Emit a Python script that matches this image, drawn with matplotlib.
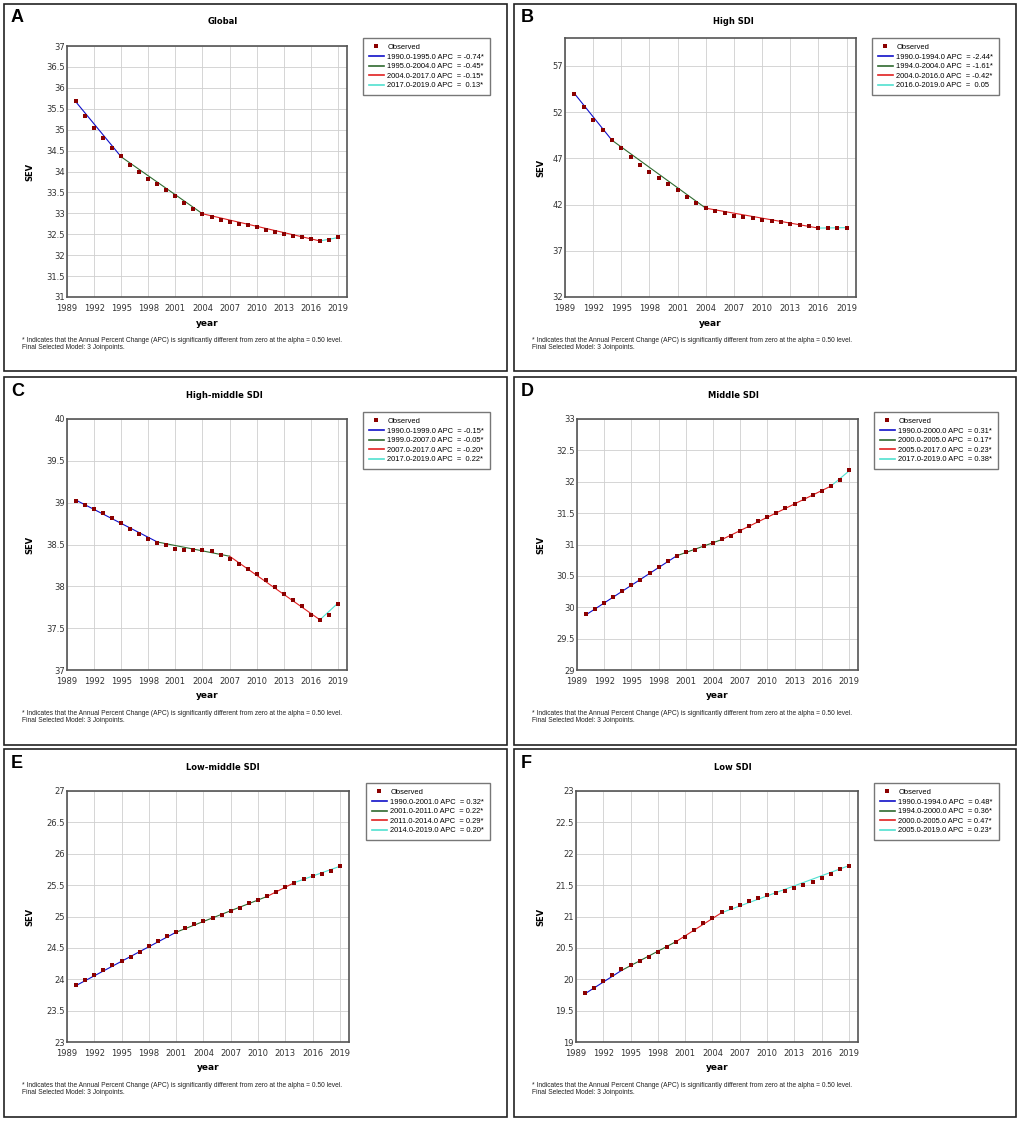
import numpy as np
import matplotlib
matplotlib.use("Agg")
import matplotlib.pyplot as plt
from matplotlib.lines import Line2D
from matplotlib.patches import Rectangle
from matplotlib.ticker import FormatStrFormatter

W, H = 1021, 1122

# ---- data ----
years = list(range(1990, 2020))

global_sev = [35.68, 35.33, 35.04, 34.80, 34.57, 34.37, 34.16, 33.98, 33.83, 33.69,
              33.55, 33.41, 33.25, 33.10, 32.98, 32.91, 32.84, 32.79, 32.75, 32.71,
              32.67, 32.61, 32.56, 32.51, 32.47, 32.44, 32.39, 32.35, 32.37, 32.43]
high_sev = [54.00, 52.50, 51.17, 50.02, 48.97, 48.07, 47.14, 46.31, 45.56, 44.87,
            44.26, 43.61, 42.85, 42.18, 41.60, 41.28, 41.03, 40.81, 40.63, 40.49,
            40.34, 40.23, 40.09, 39.91, 39.77, 39.63, 39.48, 39.41, 39.41, 39.48]
highmid_sev = [39.02, 38.97, 38.92, 38.88, 38.82, 38.76, 38.68, 38.62, 38.57, 38.52,
               38.50, 38.45, 38.43, 38.43, 38.43, 38.42, 38.38, 38.33, 38.27, 38.21,
               38.15, 38.07, 37.99, 37.91, 37.84, 37.77, 37.66, 37.60, 37.66, 37.79]
mid_sev = [29.89, 29.98, 30.07, 30.17, 30.26, 30.35, 30.43, 30.54, 30.64, 30.74,
           30.82, 30.88, 30.92, 30.97, 31.02, 31.08, 31.14, 31.22, 31.30, 31.37,
           31.44, 31.50, 31.58, 31.65, 31.73, 31.79, 31.86, 31.93, 32.03, 32.19]
lowmid_sev = [23.91, 23.99, 24.07, 24.15, 24.23, 24.29, 24.36, 24.44, 24.53, 24.61,
              24.69, 24.75, 24.81, 24.88, 24.93, 24.98, 25.03, 25.08, 25.14, 25.21,
              25.27, 25.32, 25.39, 25.47, 25.54, 25.59, 25.64, 25.68, 25.73, 25.80]
low_sev = [19.78, 19.86, 19.97, 20.07, 20.16, 20.23, 20.29, 20.36, 20.44, 20.52,
           20.60, 20.68, 20.78, 20.89, 20.98, 21.07, 21.13, 21.19, 21.24, 21.30,
           21.34, 21.37, 21.41, 21.46, 21.50, 21.55, 21.61, 21.68, 21.75, 21.81]

# joinpoint model: knot years and fitted values at the knots
global_knots = [1990, 1995, 2004, 2017, 2019]
global_fit = [35.66, 34.35, 32.99, 32.34, 32.42]
high_knots = [1990, 1994, 2004, 2016, 2019]
high_fit = [54.0, 48.95, 41.6, 39.45, 39.5]
highmid_knots = [1990, 1999, 2007, 2017, 2019]
highmid_fit = [39.03, 38.53, 38.36, 37.60, 37.80]
mid_knots = [1990, 2000, 2005, 2017, 2019]
mid_fit = [29.88, 30.82, 31.08, 31.93, 32.17]
lowmid_knots = [1990, 2001, 2011, 2014, 2019]
lowmid_fit = [23.90, 24.75, 25.32, 25.54, 25.80]
low_knots = [1990, 1994, 2000, 2005, 2019]
low_fit = [19.77, 20.14, 20.60, 21.06, 21.81]

global_apc = ["-0.74*", "-0.45*", "-0.15*", " 0.13*"]
high_apc = ["-2.44*", "-1.61*", "-0.42*", " 0.05"]
highmid_apc = ["-0.15*", "-0.05*", "-0.20*", " 0.22*"]
mid_apc = ["0.31*", "0.17*", "0.23*", "0.38*"]
lowmid_apc = ["0.32*", "0.22*", "0.29*", "0.20*"]
low_apc = ["0.48*", "0.36*", "0.47*", "0.23*"]

seg_colors = ["#1010c8", "#2f6a2f", "#e02020", "#50e0d0"]
obs_color = "#8b0000"

footnote = ("* Indicates that the Annual Percent Change (APC) is significantly "
            "different from zero at the alpha = 0.50 level.\n"
            "Final Selected Model: 3 Joinpoints.")

# panel frame (x0, y0, x1, y1), axes (x0, y0, x1, y1) in pixels from top-left
panels = [
    ("A", "Global", global_sev, global_knots, global_fit, global_apc,
     (31, 37), np.arange(31, 37.01, 0.5),
     (4, 4, 507, 371), (67, 46, 347, 297), 223, 30, (363, 38)),
    ("B", "High SDI", high_sev, high_knots, high_fit, high_apc,
     (32, 60), np.arange(32, 58, 5),
     (514, 4, 1016, 371), (565, 38, 856, 297), 733, 541, (872, 38)),
    ("C", "High-middle SDI", highmid_sev, highmid_knots, highmid_fit, highmid_apc,
     (37, 40), np.arange(37, 40.01, 0.5),
     (4, 377, 507, 745), (67, 419, 347, 670), 224, 30, (363, 412)),
    ("D", "Middle SDI", mid_sev, mid_knots, mid_fit, mid_apc,
     (29, 33), np.arange(29, 33.01, 0.5),
     (514, 377, 1016, 745), (577, 419, 858, 670), 733, 541, (874, 412)),
    ("E", "Low-middle SDI", lowmid_sev, lowmid_knots, lowmid_fit, lowmid_apc,
     (23, 27), np.arange(23, 27.01, 0.5),
     (4, 749, 507, 1117), (67, 791, 349, 1042), 223, 30, (366, 783)),
    ("F", "Low SDI", low_sev, low_knots, low_fit, low_apc,
     (19, 23), np.arange(19, 23.01, 0.5),
     (514, 749, 1016, 1117), (576, 791, 858, 1042), 733, 541, (874, 783)),
]

fig = plt.figure(figsize=(W / 100, H / 100), dpi=100)
fig.patch.set_facecolor("white")


def fx(x):
    return x / W


def fy(y):
    return 1 - y / H


for (letter, title, obs, knots, fit, apc, ylim, yticks,
     frame, box, title_x, ylab_x, leg_pos) in panels:
    # panel border
    fig.patches.append(Rectangle((fx(frame[0]), fy(frame[3])),
                                 fx(frame[2] - frame[0]), (frame[3] - frame[1]) / H,
                                 transform=fig.transFigure, fill=False,
                                 edgecolor="#222222", linewidth=1.2))

    ax = fig.add_axes([fx(box[0]), fy(box[3]), fx(box[2] - box[0]), (box[3] - box[1]) / H])
    for i in range(len(knots) - 1):
        ax.plot(knots[i:i + 2], fit[i:i + 2], color=seg_colors[i], lw=0.8, zorder=2)
    ax.plot(years, obs, linestyle="none", marker="s", markersize=3.3,
            color=obs_color, markeredgewidth=0, zorder=3)

    ax.set_xlim(1989, 2020)
    ax.set_xticks(range(1989, 2020, 3))
    ax.set_ylim(*ylim)
    ax.set_yticks(yticks)
    ax.yaxis.set_major_formatter(FormatStrFormatter("%g"))
    ax.grid(True, color="#cfcfcf", linewidth=0.6, linestyle="-")
    ax.set_axisbelow(True)
    ax.tick_params(length=0, labelsize=6, colors="#333333")
    ax.tick_params(axis="x", pad=5)
    ax.tick_params(axis="y", pad=1.5)
    for s in ax.spines.values():
        s.set_color("#555555")
        s.set_linewidth(1.2)

    fig.text(fx(frame[0] + 7), fy(frame[1] + 14), letter, fontsize=13,
             fontweight="bold", family="Liberation Sans", va="center", ha="left")
    fig.text(fx(title_x), fy(frame[1] + 18), title, fontsize=6, fontweight="bold",
             family="DejaVu Sans", ha="center", va="center")
    fig.text(fx((box[0] + box[2]) / 2), fy(box[3] + 26), "year", fontsize=6.5,
             fontweight="bold", family="DejaVu Sans", ha="center", va="center")
    fig.text(fx(ylab_x), fy((box[1] + box[3]) / 2), "SEV", fontsize=6,
             fontweight="bold", family="DejaVu Sans", ha="center", va="center",
             rotation=90)
    fig.text(fx(frame[0] + 18), fy(box[3] + 40), footnote, fontsize=4.8,
             family="Liberation Sans", ha="left", va="top", linespacing=1.1,
             color="#222222")

    handles = [Line2D([], [], linestyle="none", marker="s", markersize=3,
                      color=obs_color, markeredgewidth=0)]
    labels = ["Observed"]
    for i in range(len(knots) - 1):
        handles.append(Line2D([], [], color=seg_colors[i], lw=1.2))
        labels.append(f"{knots[i]}.0-{knots[i + 1]}.0 APC  = {apc[i]}")
    leg = fig.legend(handles, labels, loc="upper left",
                     bbox_to_anchor=(fx(leg_pos[0]), fy(leg_pos[1])),
                     bbox_transform=fig.transFigure, frameon=True, fancybox=False,
                     edgecolor="#555555", handlelength=2.0,
                     borderpad=0.75, labelspacing=0.32, handletextpad=0.5,
                     borderaxespad=0, prop={"family": "Liberation Sans", "size": 5.4})
    leg.get_frame().set_linewidth(1.0)

fig.savefig("out.png", dpi=100, facecolor="white")
